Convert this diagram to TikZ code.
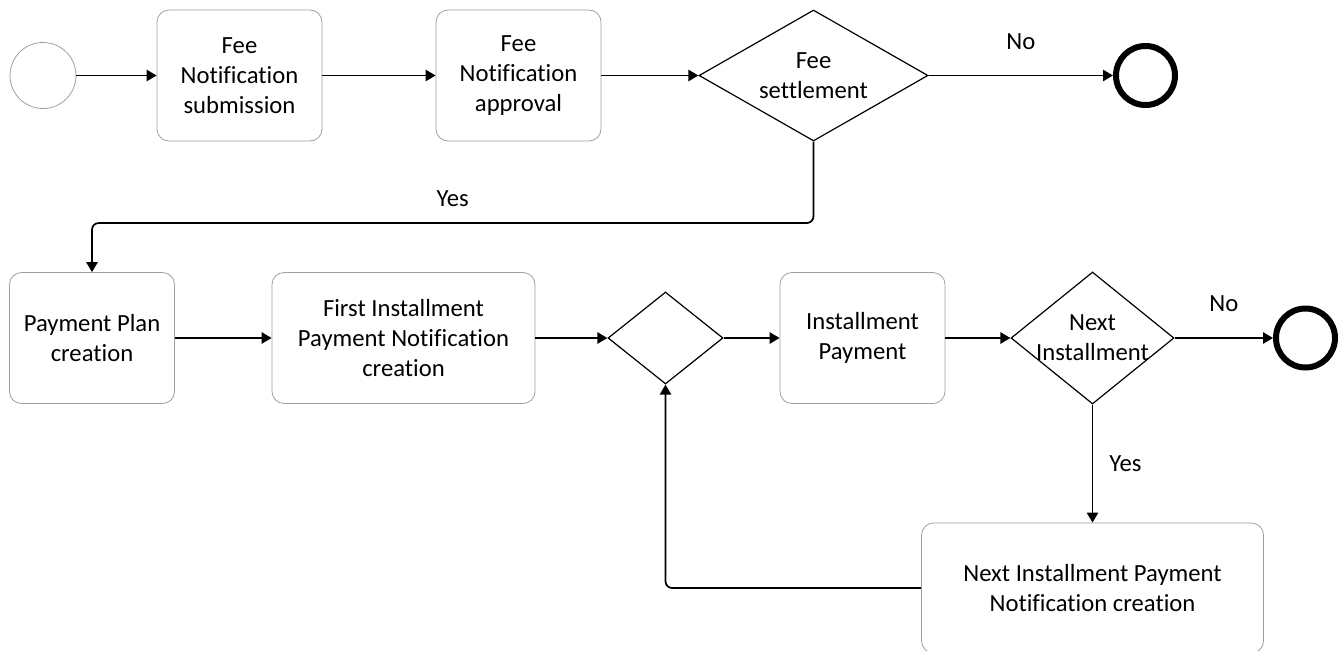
\documentclass[tikz,border=0pt]{standalone}
\usepackage{fontspec}
\setmainfont{Carlito}[Ligatures={NoCommon}]
\usetikzlibrary{arrows.meta,shapes.geometric,positioning}

\begin{document}
\begin{tikzpicture}[
    x=0.75pt, y=-0.75pt,
    every node/.style={font=\fontsize{18.5}{22.5}\selectfont, align=center},
    task/.style={draw=gray!75, line width=0.6pt, rounded corners=9pt,
        minimum width=123.75pt, minimum height=98.25pt},
    gate/.style={diamond, draw, line width=0.9pt, inner sep=0pt},
    event/.style={circle, draw=gray!75, line width=0.6pt, minimum size=49.5pt, inner sep=0pt},
    endevent/.style={circle, draw, line width=4.5pt, minimum size=44.25pt, inner sep=0pt},
    flow/.style={line width=1.3pt, -{Triangle[length=7.5pt,width=8.5pt]}},
    answer/.style={inner sep=0pt}
]
    \useasboundingbox (0,0) rectangle (1344,650);

    \node [event] (startev) at (43,75.5) {};
    \node [task] (fnsub) at (239.5,75.5) {Fee\\Notification\\submission};
    \node [task] (fnapp) at (518.5,75.5) {Fee\\Notification\\approval};
    \node [gate, minimum width=171.75pt, minimum height=98.25pt,
        label={center:{Fee\\settlement}}] (feeset) at (813.5,75.5) {};
    \node [endevent] (end1) at (1145.5,75.5) {};

    \node [task] (ppc) at (92,338) {Payment Plan\\creation};
    \node [task, minimum width=197.25pt] (fipn) at (403.5,338)
        {First Installment\\Payment Notification\\creation};
    \node [gate, minimum width=86.25pt, minimum height=69pt] (merge) at (665.5,338) {};
    \node [task] (instpay) at (862.5,338) {Installment\\Payment};
    \node [gate, minimum width=122.25pt, minimum height=99pt,
        label={center:{Next\\Installment}}] (nextinst) at (1092.5,338) {};
    \node [endevent] (end2) at (1305.5,338) {};
    \node [task, minimum width=256.5pt, minimum height=97.5pt] (nipn) at (1092.5,588)
        {Next Installment Payment\\Notification creation};

    \coordinate (yesrow) at (0,223);

    \draw [flow] (startev) -- (fnsub);
    \draw [flow] (fnsub) -- (fnapp);
    \draw [flow] (fnapp) -- (feeset);
    \draw [flow] (feeset) -- node [answer, above=18.75pt] {No} (end1);
    \draw [flow, rounded corners=5pt] (feeset.south) -- (feeset.south |- yesrow)
        -- node [answer, above=11.25pt] {Yes} (ppc.north |- yesrow)
        -- (ppc.north);

    \draw [flow] (ppc) -- (fipn);
    \draw [flow] (fipn) -- (merge);
    \draw [flow] (merge) -- (instpay);
    \draw [flow] (instpay) -- (nextinst);
    \draw [flow] (nextinst) -- node [answer, above=18.75pt] {No} (end2);
    \draw [flow] (nextinst) -- node [answer, right=12pt] {Yes} (nipn);
    \draw [flow, rounded corners=5pt] (nipn) -| (merge);
\end{tikzpicture}
\end{document}
